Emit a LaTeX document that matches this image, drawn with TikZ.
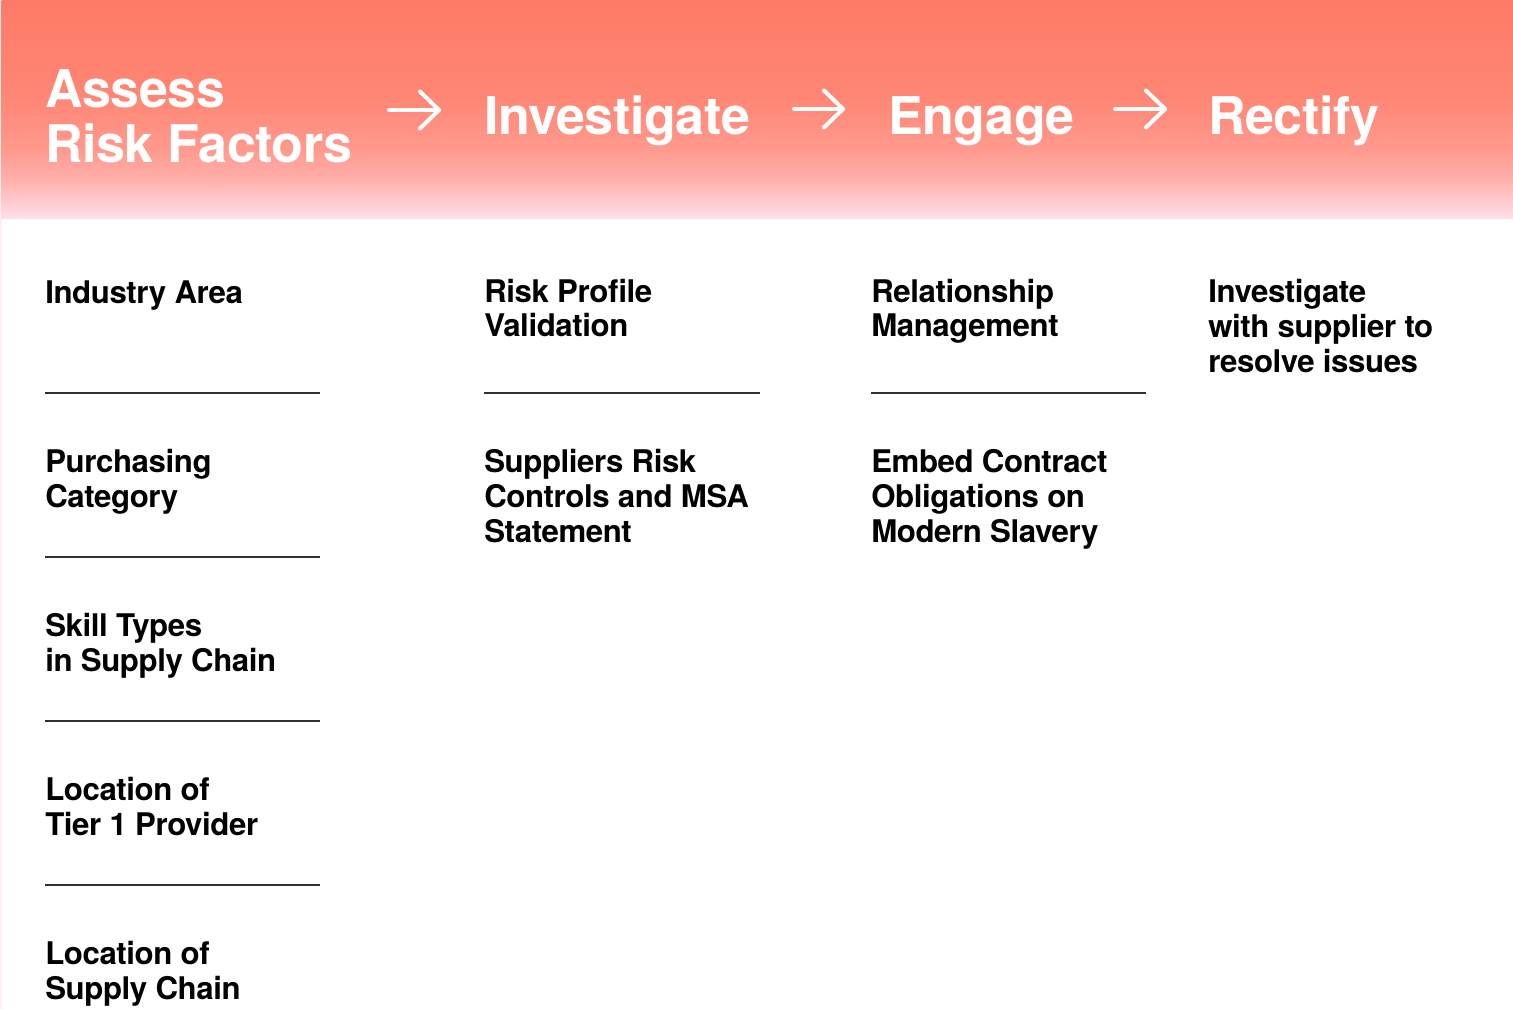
\documentclass[tikz,border=0pt]{standalone}
\usepackage{fontspec}
\setmainfont{TeX Gyre Heros}
\newfontfamily\headfont[LetterSpace=-0.8]{TeX Gyre Heros}
\newfontfamily\bodyfont[LetterSpace=-1.3]{TeX Gyre Heros}
\usetikzlibrary{calc}
\definecolor{hdA}{RGB}{255,122,104}
\definecolor{hdB}{RGB}{255,135,117}
\definecolor{hdC}{RGB}{255,154,142}
\definecolor{hdD}{RGB}{255,176,172}
\definecolor{hdE}{RGB}{255,200,204}
\definecolor{hdF}{RGB}{255,224,236}
\definecolor{edge}{RGB}{255,238,236}
\definecolor{rule}{RGB}{50,50,50}
\pgfdeclareverticalshading{hdshade}{100bp}{
  color(0bp)=(hdF);
  color(25bp)=(hdF);
  color(29.3bp)=(hdE);
  color(33.9bp)=(hdD);
  color(40.8bp)=(hdC);
  color(52.2bp)=(hdB);
  color(75bp)=(hdA);
  color(100bp)=(hdA)}
% anchors are at the baseline of the LAST line of each node
\tikzset{
  head/.style={anchor=base west, inner sep=0pt, text=white, align=left,
    font=\headfont\bfseries\fontsize{39pt}{41.25pt}\selectfont},
  body/.style={anchor=base west, inner sep=0pt, text=black, align=left,
    font=\bodyfont\bfseries\fontsize{23.4pt}{25.9pt}\selectfont},
  bodytight/.style={body, font=\bodyfont\bfseries\fontsize{23.4pt}{24.8pt}\selectfont},
  arr/.style={draw=white, line width=3pt, line cap=round, line join=round},
  sep/.style={draw=rule, line width=1.1pt}
}
\begin{document}
\begin{tikzpicture}[x=0.75pt, y=-0.75pt]
\useasboundingbox (0,0) rectangle (1513,1009);
\fill[white] (0,0) rectangle (1513,1009);
\fill[edge] (0,0) rectangle (1.5,1009);
\shade[shading=hdshade] (1.5,0) rectangle (1513,219);

% header titles
\node[head] (h1) at (45,163) {Assess\\Risk Factors};
\node[head] (h2) at (484,135) {Investigate};
\node[head] (h3) at (888,135) {Engage};
\node[head] (h4) at (1208,135) {Rectify};

% arrows
\coordinate (a1s) at (389,110);
\coordinate (a1e) at (439,110);
\coordinate (a2s) at (794,109);
\coordinate (a2e) at (843,109);
\coordinate (a3s) at (1115,109);
\coordinate (a3e) at (1165,109);
\foreach \s/\e in {a1s/a1e,a2s/a2e,a3s/a3e}{
  \draw[arr] (\s) -- (\e);
  \draw[arr] ($(\e)+(-19,-18.5)$) -- (\e) -- ($(\e)+(-19,18.5)$);
}

% column 1
\node[body] (c1a) at (45,303) {Industry Area};
\node[body] (c1b) at (45,507.5) {Purchasing\\Category};
\node[body] (c1c) at (45,671.5) {Skill Types\\in Supply Chain};
\node[body] (c1d) at (45,835.5) {Location of\\Tier 1 Provider};
\node[body] (c1e) at (45,999.5) {Location of\\Supply Chain};
\coordinate (l1a) at (45,393);  \coordinate (r1a) at (320,393);
\coordinate (l1b) at (45,557);  \coordinate (r1b) at (320,557);
\coordinate (l1c) at (45,721);  \coordinate (r1c) at (320,721);
\coordinate (l1d) at (45,885);  \coordinate (r1d) at (320,885);
\draw[sep] (l1a) -- (r1a);
\draw[sep] (l1b) -- (r1b);
\draw[sep] (l1c) -- (r1c);
\draw[sep] (l1d) -- (r1d);

% column 2
\node[bodytight] (c2a) at (484,336) {Risk Profile\\Validation};
\node[body] (c2b) at (484,542) {Suppliers Risk\\Controls and MSA\\Statement};
\coordinate (l2a) at (484,393); \coordinate (r2a) at (760,393);
\draw[sep] (l2a) -- (r2a);

% column 3
\node[bodytight] (c3a) at (871,336) {Relationship\\Management};
\node[body] (c3b) at (871,542) {Embed Contract\\Obligations on\\Modern Slavery};
\coordinate (l3a) at (871,393); \coordinate (r3a) at (1146,393);
\draw[sep] (l3a) -- (r3a);

% column 4
\node[body] (c4a) at (1208,372) {Investigate\\with supplier to\\resolve issues};
\end{tikzpicture}
\end{document}
